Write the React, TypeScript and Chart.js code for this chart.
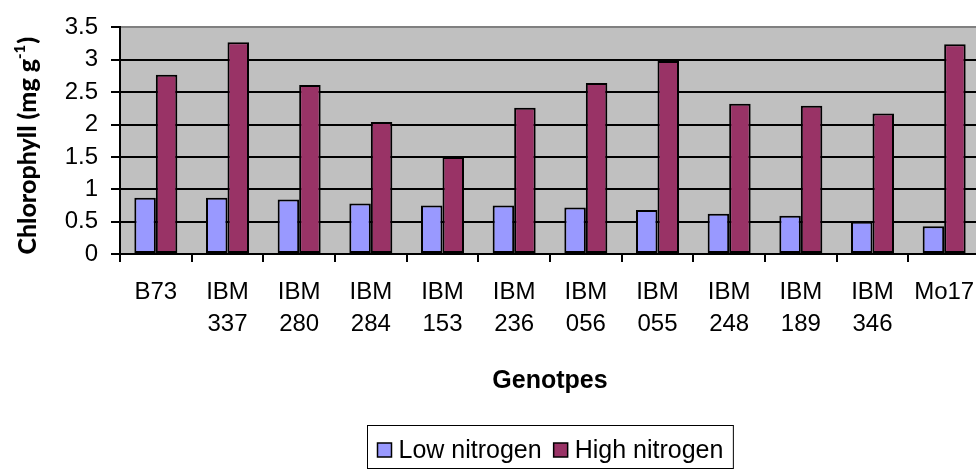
import React, { useEffect, useRef } from 'react';
import { Chart, registerables } from 'chart.js';

Chart.register(...registerables);

// ---- data ----
const categories: (string | string[])[] = [
  'B73',
  ['IBM', '337'],
  ['IBM', '280'],
  ['IBM', '284'],
  ['IBM', '153'],
  ['IBM', '236'],
  ['IBM', '056'],
  ['IBM', '055'],
  ['IBM', '248'],
  ['IBM', '189'],
  ['IBM', '346'],
  'Mo17',
];
const lowNitrogen = [0.87, 0.87, 0.84, 0.78, 0.75, 0.75, 0.72, 0.68, 0.62, 0.59, 0.5, 0.43];
const highNitrogen = [2.77, 3.27, 2.61, 2.04, 1.5, 2.26, 2.64, 2.98, 2.32, 2.29, 2.17, 3.24];
const seriesNames = ['Low nitrogen', 'High nitrogen'];
const yMin = 0;
const yMax = 3.5;
const yStep = 0.5;
const xTitle = 'Genotpes';
const yTitleMain = 'Chlorophyll (mg g';
const yTitleSup = '-1';
const yTitleEnd = ')';

const SANS = '"Liberation Sans", Arial, sans-serif';
const TITLE_FONT = 'Lato, "Liberation Sans", sans-serif';

const decorPlugin = {
  id: 'decor',
  beforeDraw(chart: any) {
    const { ctx, chartArea: a } = chart;
    ctx.save();
    ctx.fillStyle = '#C0C0C0';
    ctx.fillRect(a.left, a.top, a.right - a.left, a.bottom - a.top);
    ctx.restore();
  },
  afterDraw(chart: any) {
    const { ctx, chartArea: a } = chart;
    const cx = (a.left + a.right) / 2;
    ctx.save();
    ctx.fillStyle = '#000';

    // x-axis title
    ctx.font = `bold 25px ${SANS}`;
    ctx.textAlign = 'center';
    ctx.textBaseline = 'alphabetic';
    ctx.fillText(xTitle, cx, a.bottom + 134);

    // y-axis title (rotated, with superscript)
    const mainFont = `900 25px ${TITLE_FONT}`;
    const supFont = `900 15px ${TITLE_FONT}`;
    ctx.font = mainFont;
    const w1 = ctx.measureText(yTitleMain).width;
    const w3 = ctx.measureText(yTitleEnd).width;
    ctx.font = supFont;
    const w2 = ctx.measureText(yTitleSup).width;
    const total = w1 + w2 + w3 + 1;
    ctx.save();
    ctx.translate(36, (a.top + a.bottom) / 2 + 5);
    ctx.rotate(-Math.PI / 2);
    ctx.textAlign = 'left';
    let x = -total / 2;
    ctx.font = mainFont;
    ctx.fillText(yTitleMain, x, 0);
    x += w1;
    ctx.font = supFont;
    ctx.fillText(yTitleSup, x, -11);
    x += w2 + 1;
    ctx.font = mainFont;
    ctx.fillText(yTitleEnd, x, 0);
    ctx.restore();

    // legend
    ctx.font = `25px ${SANS}`;
    const sw = 14;
    const gapT = 7;
    const gapI = 12;
    const pad = 10;
    const items = chart.data.datasets.map((ds: any) => ({
      label: ds.label,
      color: ds.backgroundColor,
      w: ctx.measureText(ds.label).width,
    }));
    let tw = pad * 2 + gapI * (items.length - 1);
    items.forEach((it: any) => (tw += sw + gapT + it.w));
    const left = Math.round(cx - tw / 2) + 0.5;
    const top = 425.5;
    const bottom = 468.5;
    ctx.strokeStyle = '#000';
    ctx.lineWidth = 1;
    ctx.strokeRect(left, top, tw, bottom - top);
    let lx = left + pad;
    ctx.textAlign = 'left';
    items.forEach((it: any) => {
      ctx.fillStyle = it.color;
      ctx.fillRect(lx, 443, sw, sw);
      ctx.lineWidth = 1.5;
      ctx.strokeStyle = '#000';
      ctx.strokeRect(lx, 443, sw, sw);
      ctx.fillStyle = '#000';
      ctx.fillText(it.label, lx + sw + gapT, 458);
      lx += sw + gapT + it.w + gapI;
    });
    ctx.restore();
  },
};

export default function App() {
  const ref = useRef<HTMLCanvasElement | null>(null);

  useEffect(() => {
    if (!ref.current) return;
    Chart.defaults.font.family = SANS;
    const chart = new Chart(ref.current, {
      type: 'bar',
      data: {
        labels: categories,
        datasets: [
          {
            label: seriesNames[0],
            data: lowNitrogen,
            backgroundColor: '#9999FF',
            borderColor: '#000000',
            borderWidth: 2,
            borderSkipped: false,
            categoryPercentage: 0.6,
            barPercentage: 1.0,
          },
          {
            label: seriesNames[1],
            data: highNitrogen,
            backgroundColor: '#993366',
            borderColor: '#000000',
            borderWidth: 2,
            borderSkipped: false,
            categoryPercentage: 0.6,
            barPercentage: 1.0,
          },
        ],
      },
      options: {
        responsive: false,
        animation: false,
        devicePixelRatio: 1,
        layout: { padding: { left: 0, top: 22, right: 30, bottom: 0 } },
        plugins: {
          legend: { display: false },
          tooltip: { enabled: false },
          title: { display: false },
        },
        scales: {
          x: {
            grid: {
              display: true,
              drawOnChartArea: false,
              drawTicks: true,
              tickLength: 8,
              color: '#000',
              lineWidth: 2,
              offset: true,
            },
            border: { display: true, color: '#000', width: 2 },
            ticks: {
              color: '#000',
              font: { size: 24, lineHeight: 1.32 },
              padding: 15,
              maxRotation: 0,
              minRotation: 0,
              autoSkip: false,
            },
            afterFit: (s: any) => {
              s.height = 215;
            },
          },
          y: {
            min: yMin,
            max: yMax,
            grid: {
              color: (c: any) => (c.tick && c.tick.value === yMax ? '#808080' : '#000'),
              tickColor: '#000',
              lineWidth: 2,
              drawTicks: true,
              tickLength: 9,
            },
            border: { display: true, color: '#000', width: 2 },
            ticks: {
              stepSize: yStep,
              color: '#000',
              font: { size: 24 },
              padding: 13,
              callback: (v: any) => String(Number(v)),
            },
            afterFit: (s: any) => {
              s.width = 120;
            },
          },
        },
      },
      plugins: [decorPlugin],
    });
    return () => chart.destroy();
  }, []);

  return (
    <div
      style={{
        position: 'absolute',
        left: 0,
        top: 0,
        width: 976,
        height: 469,
        overflow: 'hidden',
        background: '#fff',
      }}
    >
      <canvas ref={ref} width={1010} height={469} style={{ display: 'block', width: 1010, height: 469 }} />
    </div>
  );
}
